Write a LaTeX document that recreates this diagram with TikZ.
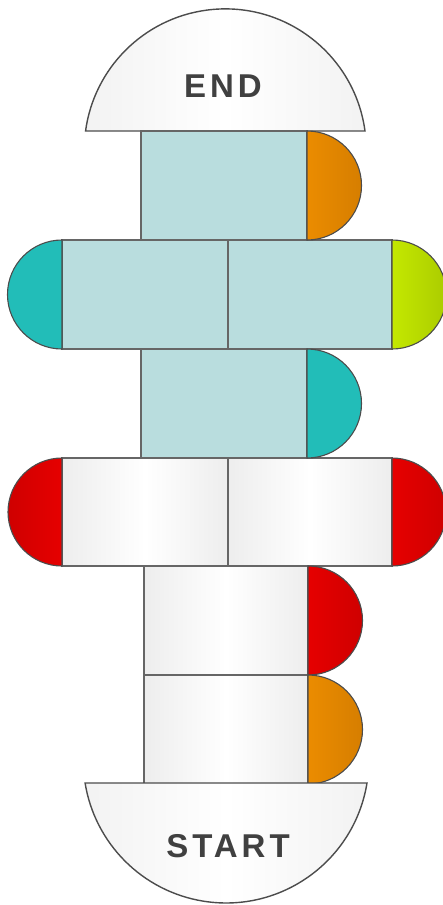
\documentclass[tikz,border=0pt]{standalone}
\usepackage{fontspec}
\newfontfamily\boardfont[LetterSpace=12]{Liberation Sans}
\usetikzlibrary{positioning}
\definecolor{tileblue}{HTML}{B9DDDE}
\definecolor{capOrange}{HTML}{EB8C00}
\definecolor{capOrangeD}{HTML}{D67E00}
\definecolor{capTeal}{HTML}{22BDB8}
\definecolor{capLime}{HTML}{C4E800}
\definecolor{capLimeD}{HTML}{ABCC00}
\definecolor{capRed}{HTML}{E60000}
\definecolor{capRedD}{HTML}{CF0000}

\begin{document}
\begin{tikzpicture}[
  x=1pt, y=-1pt,
  tile/.style={draw=black!60, line width=1.1pt, inner sep=0pt, outer sep=0pt, minimum width=166, minimum height=109},
  tileB/.style={tile, fill=tileblue},
  tileW/.style={tile, left color=black!7, right color=black!7, middle color=white},
  halfcap/.style={draw=black!70, line width=1.1pt},
  dome/.style={draw=black!70, line width=1.4pt, left color=black!5, right color=black!5, middle color=white},
  boardtext/.style={font=\boardfont\bfseries\fontsize{33}{33}\selectfont, text=black!75, inner sep=0pt},
]
\useasboundingbox (0,0) rectangle (443,905);

% ---- end dome ----
\draw[dome] (365,131) arc[start angle=7.7, end angle=172.3, radius=141pt] -- cycle;
\node[boardtext] (endlbl) at (223,86) {END};

% ---- blue tiles ----
\node[tileB] (t1) at (224,185.5) {};
\node[tileB, anchor=north east] (m1) at ([xshift=4]t1.south) {};
\node[tileB, right=0pt of m1, minimum width=164] (m2) {};
\node[tileB, below=0pt of m1.south east, xshift=-4] (t2) {};

% ---- white tiles ----
\node[tileW, anchor=north east, minimum height=108] (w1) at ([xshift=4]t2.south) {};
\node[tileW, right=0pt of w1, minimum width=164, minimum height=108] (w2) {};
\node[tileW, below=0pt of w1.south east, xshift=-2, minimum width=164] (b1) {};
\node[tileW, below=0pt of b1, minimum width=164] (b2) {};

% ---- half-disc caps ----
\draw[halfcap, left color=capOrange, right color=capOrangeD] (t1.north east) arc[start angle=90, end angle=-90, radius=54.5pt] -- cycle;
\draw[halfcap, fill=capTeal] (m1.north west) arc[start angle=90, end angle=270, radius=54.5pt] -- cycle;
\draw[halfcap, left color=capLime, right color=capLimeD] (m2.north east) arc[start angle=90, end angle=-90, radius=54.5pt] -- cycle;
\draw[halfcap, fill=capTeal] (t2.north east) arc[start angle=90, end angle=-90, radius=54.5pt] -- cycle;
\draw[halfcap, left color=capRedD, right color=capRed] (w1.north west) arc[start angle=90, end angle=270, radius=54pt] -- cycle;
\draw[halfcap, left color=capRed, right color=capRedD] (w2.north east) arc[start angle=90, end angle=-90, radius=54pt] -- cycle;
\draw[halfcap, left color=capRed, right color=capRedD] (b1.north east) arc[start angle=90, end angle=-90, radius=54.5pt] -- cycle;
\draw[halfcap, left color=capOrange, right color=capOrangeD] (b2.north east) arc[start angle=90, end angle=-90, radius=54.5pt] -- cycle;

% ---- start dome ----
\draw[dome] (367,783) arc[start angle=-9.2, end angle=-170.8, radius=142.8pt] -- cycle;
\node[boardtext] (startlbl) at (228,846) {START};

\end{tikzpicture}
\end{document}
